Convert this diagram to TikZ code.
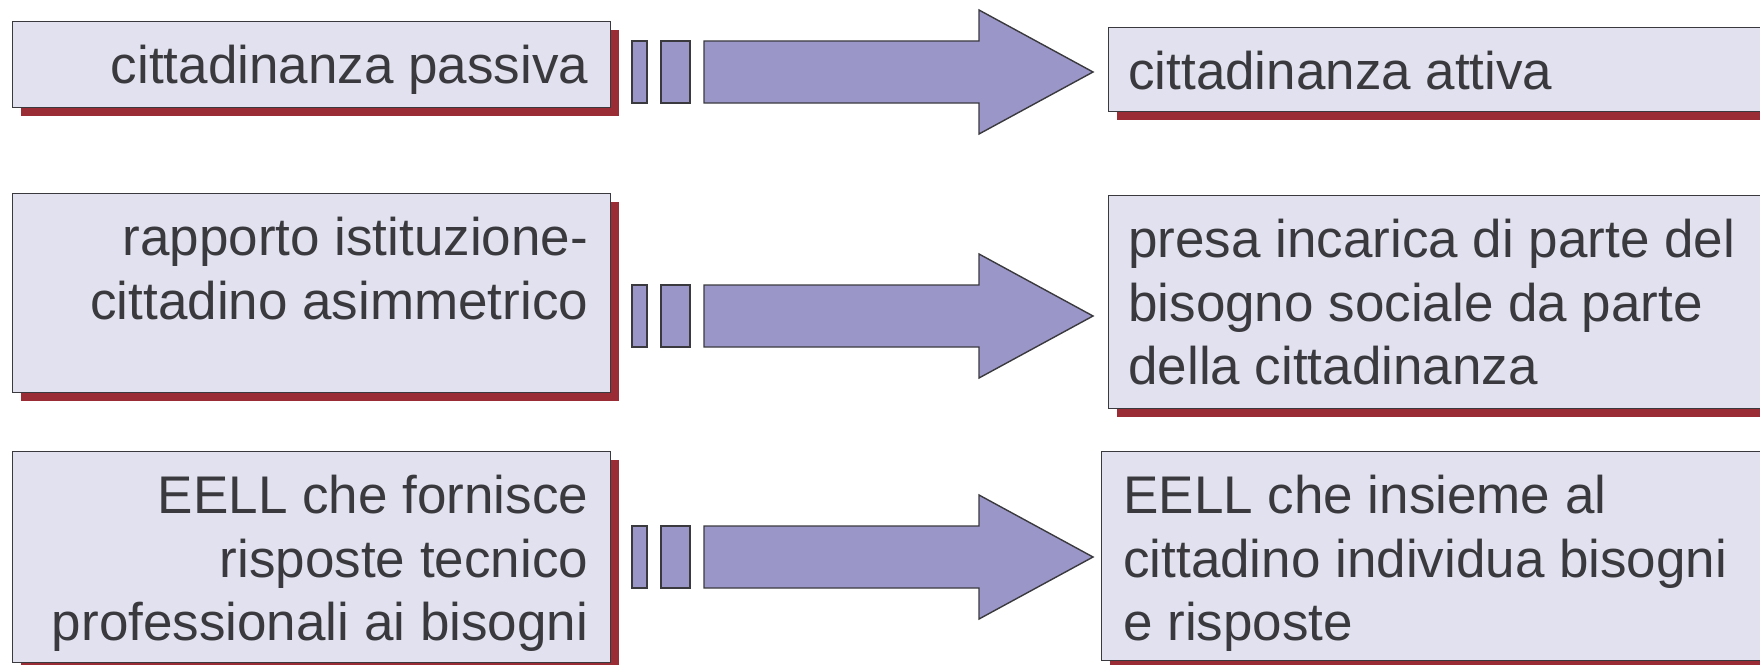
\documentclass[tikz,border=0pt]{standalone}
\usepackage{fontspec}
\setmainfont{Liberation Sans}
\usetikzlibrary{shapes,shadows,positioning}
\definecolor{lilla}{RGB}{225,225,239}
\definecolor{bordo}{RGB}{154,44,53}
\definecolor{viola}{RGB}{155,150,200}
\definecolor{grigio}{RGB}{58,58,62}
\tikzstyle{casella}=[rectangle,draw=grigio,fill=lilla,line width=1pt,inner sep=0pt,anchor=north west,drop shadow={shadow xshift=.2cm,shadow yshift=-.2cm,fill=bordo,opacity=1}]
\tikzstyle{testo}=[inner sep=0pt,text=grigio,font=\fontsize{37.7}{45.2}\selectfont]
\tikzstyle{freccia}=[draw=grigio,fill=viola,line width=1pt,line join=miter]

\begin{document}
\begin{tikzpicture}
\clip (0,0) rectangle (44,-16.6);
\node[casella,minimum width=14.95cm,minimum height=2.15cm]  (p1) at (0.3,-0.525) {};
\node[casella,minimum width=14.95cm,minimum height=4.975cm] (p2) at (0.3,-4.825) {};
\node[casella,minimum width=14.95cm,minimum height=5.275cm] (p3) at (0.3,-11.275) {};
\node[casella,minimum width=17cm,minimum height=2.1cm]      (q1) at (27.7,-0.675) {};
\node[casella,minimum width=17cm,minimum height=5.325cm]    (q2) at (27.7,-4.875) {};
\node[casella,minimum width=17.2cm,minimum height=5.225cm]  (q3) at (27.525,-11.275) {};
\node[testo,align=right,below left=.6cm and .575cm of p1.north east] (p1t) {cittadinanza passiva};
\node[testo,align=right,below left=.6cm and .575cm of p2.north east] (p2t) {rapporto istituzione-\\cittadino asimmetrico};
\node[testo,align=right,below left=.6cm and .575cm of p3.north east] (p3t) {EELL che fornisce\\risposte tecnico\\professionali ai bisogni};
\node[testo,align=left,below right=.6cm and .5cm of q1.north west] (q1t) {cittadinanza attiva};
\node[testo,align=left,below right=.6cm and .5cm of q2.north west] (q2t) {presa incarica di parte del\\bisogno sociale da parte\\della cittadinanza};
\node[testo,align=left,below right=.6cm and .55cm of q3.north west] (q3t) {EELL che insieme al\\cittadino individua bisogni\\e risposte};
\foreach \y in {-1.8,-7.9,-13.925}{
  \draw[freccia] (15.8,\y-.775) rectangle (16.175,\y+.775);
  \draw[freccia] (16.525,\y-.775) rectangle (17.25,\y+.775);
  \draw[freccia] (17.6,\y+.775) -- (24.475,\y+.775) -- (24.475,\y+1.55) -- (27.325,\y)
    -- (24.475,\y-1.55) -- (24.475,\y-.775) -- (17.6,\y-.775) -- cycle;
}
\end{tikzpicture}
\end{document}
